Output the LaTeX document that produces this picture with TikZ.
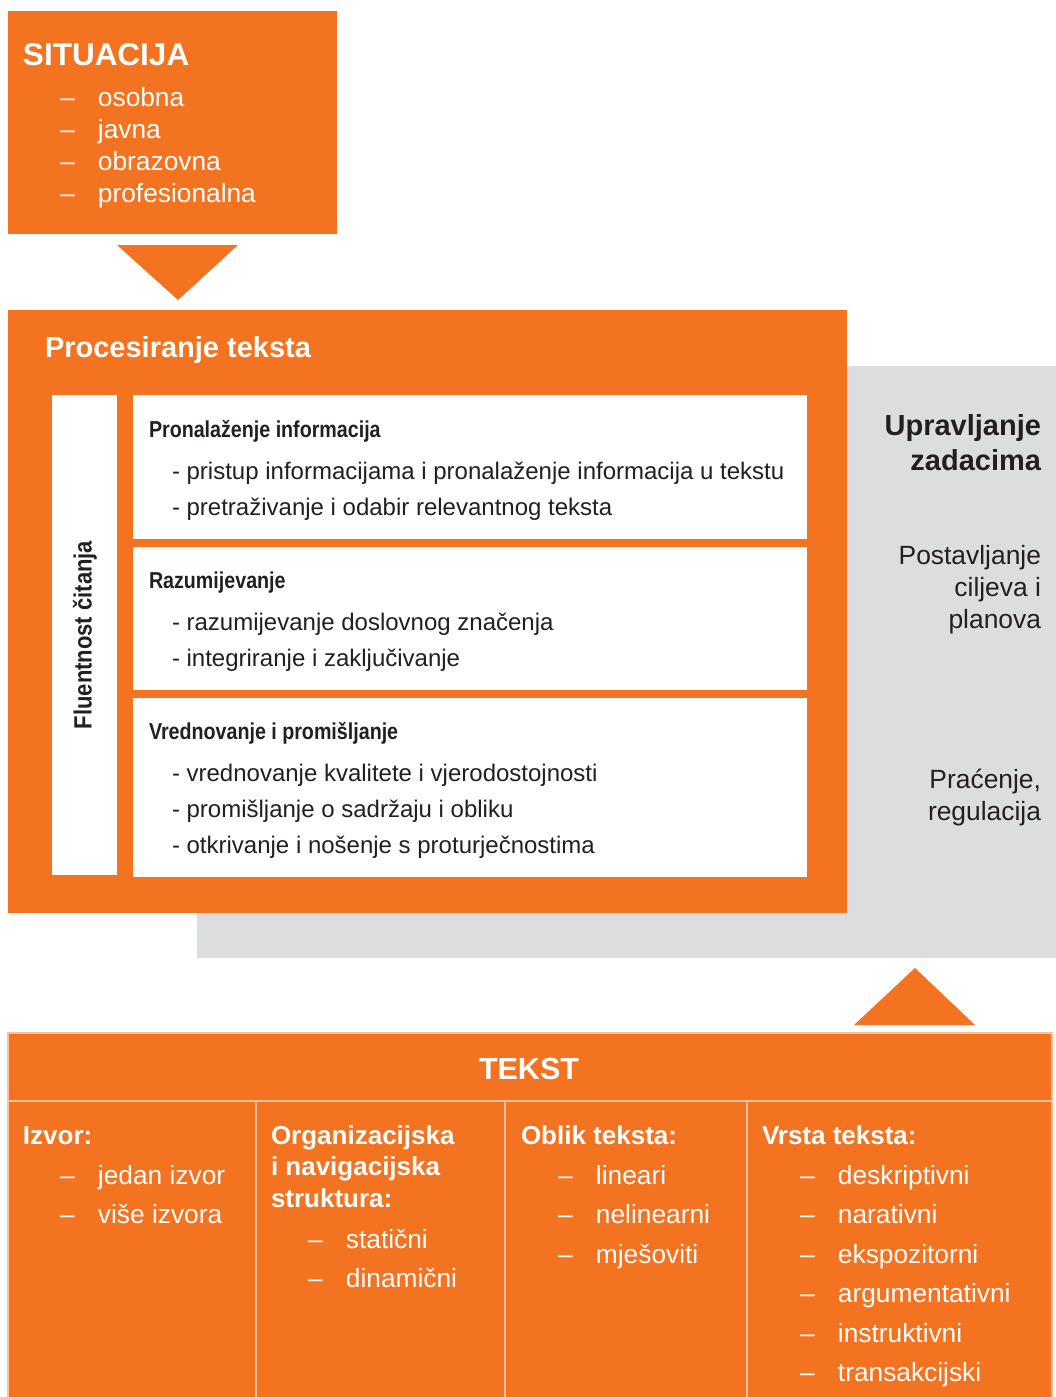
\documentclass[tikz,border=0pt]{standalone}
\usepackage{fontspec}
\setmainfont{Liberation Sans}
\newfontfamily\narrowfam[FakeStretch=0.855]{Liberation Sans}
\newfontfamily\sidefam[FakeStretch=0.88]{Liberation Sans}

\definecolor{brand}{HTML}{F37321}
\definecolor{panel}{HTML}{DCDDDF}
\definecolor{ink}{HTML}{231F20}
\definecolor{hairline}{HTML}{F9C3A0}

% font sizes in px-like points
\newcommand{\fsz}[1]{\fontsize{#1}{#1}\selectfont}
\newcommand{\dashitem}[1]{\makebox[38pt][l]{–}#1}

\begin{document}
\begin{tikzpicture}[x=1pt,y=-1pt,
  every node/.style={inner sep=0pt, outer sep=0pt},
  whitetxt/.style={text=white, anchor=base west},
  inktxt/.style={text=ink, anchor=base west},
  bigtitle/.style={whitetxt, font=\fsz{31.5}\bfseries},
  sectitle/.style={whitetxt, font=\fsz{26}\bfseries},
  proctitle/.style={whitetxt, font=\fsz{29}\bfseries},
  listitem/.style={whitetxt, font=\fsz{26.3}},
  subhead/.style={inktxt, font=\narrowfam\fsz{23}\bfseries},
  subitem/.style={inktxt, font=\fsz{24}},
  sidehead/.style={text=ink, anchor=base east, font=\fsz{29}\bfseries},
  sideitem/.style={text=ink, anchor=base east, font=\fsz{26.4}},
  card/.style={fill=white},
]
\useasboundingbox (0,0) rectangle (1056,1397);
\fill[white] (0,0) rectangle (1056,1397);

% ---- situation box and downward arrow
\fill[brand] (8,11) rectangle (337,234);
\node[bigtitle] (sit) at (23,66) {SITUACIJA};
\node[listitem] (sit1) at (60,106) {\dashitem{osobna}};
\node[listitem] (sit2) at (60,138) {\dashitem{javna}};
\node[listitem] (sit3) at (60,170) {\dashitem{obrazovna}};
\node[listitem] (sit4) at (60,202) {\dashitem{profesionalna}};
\fill[brand] (117,245) -- (238,245) -- (178,300) -- cycle;

% ---- task management panel (behind the processing block)
\fill[panel] (197,366) rectangle (1056,958);
\node[sidehead] (up1) at (1041,435) {Upravljanje};
\node[sidehead] (up2) at (1041,470) {zadacima};
\node[sideitem] (po1) at (1041,564) {Postavljanje};
\node[sideitem] (po2) at (1041,596) {ciljeva i};
\node[sideitem] (po3) at (1041,628) {planova};
\node[sideitem] (pr1) at (1041,788) {Praćenje,};
\node[sideitem] (pr2) at (1041,820) {regulacija};

% ---- text processing block
\fill[brand] (8,310) rectangle (847,913);
\node[proctitle] (proc) at (45,357) {Procesiranje teksta};

\fill[card] (52,395) rectangle (117,875);
\node[text=ink, rotate=90, font=\sidefam\fsz{25}\bfseries] (flu) at (85,635) {Fluentnost čitanja};

\fill[card] (133,395) rectangle (807,539);
\node[subhead] (h1) at (149,437) {Pronalaženje informacija};
\node[subitem] (h1a) at (172,479) {- pristup informacijama i pronalaženje informacija u tekstu};
\node[subitem] (h1b) at (172,515) {- pretraživanje i odabir relevantnog teksta};

\fill[card] (133,547) rectangle (807,690);
\node[subhead] (h2) at (149,588) {Razumijevanje};
\node[subitem] (h2a) at (172,630) {- razumijevanje doslovnog značenja};
\node[subitem] (h2b) at (172,666) {- integriranje i zaključivanje};

\fill[card] (133,698) rectangle (807,877);
\node[subhead] (h3) at (149,739) {Vrednovanje i promišljanje};
\node[subitem] (h3a) at (172,781) {- vrednovanje kvalitete i vjerodostojnosti};
\node[subitem] (h3b) at (172,817) {- promišljanje o sadržaju i obliku};
\node[subitem] (h3c) at (172,853) {- otkrivanje i nošenje s proturječnostima};

% ---- upward arrow into the panel
\fill[brand] (854,1025) -- (975,1025) -- (915,968) -- cycle;

% ---- text table
\fill[brand] (8,1033) rectangle (1052,1397);
\draw[hairline, line width=1.5pt] (8,1397) -- (8,1033) -- (1052,1033) -- (1052,1397);
\draw[hairline, line width=1.5pt] (8,1101) -- (1052,1101);
\foreach \cx in {256,505,747}
  \draw[hairline, line width=1.5pt] (\cx,1101) -- (\cx,1397);
\node[text=white, anchor=base, font=\fsz{30.5}\bfseries] (tekst) at (529,1079) {TEKST};

\node[sectitle] (c1) at (23,1144) {Izvor:};
\node[listitem] (c1a) at (60,1184) {\dashitem{jedan izvor}};
\node[listitem] (c1b) at (60,1223) {\dashitem{više izvora}};

\node[sectitle] (c2a) at (271,1144) {Organizacijska};
\node[sectitle] (c2b) at (271,1175) {i navigacijska};
\node[sectitle] (c2c) at (271,1207) {struktura:};
\node[listitem] (c2d) at (308,1248) {\dashitem{statični}};
\node[listitem] (c2e) at (308,1287) {\dashitem{dinamični}};

\node[sectitle] (c3) at (521,1144) {Oblik teksta:};
\node[listitem] (c3a) at (558,1184) {\dashitem{lineari}};
\node[listitem] (c3b) at (558,1223) {\dashitem{nelinearni}};
\node[listitem] (c3c) at (558,1263) {\dashitem{mješoviti}};

\node[sectitle] (c4) at (762,1144) {Vrsta teksta:};
\node[listitem] (c4a) at (800,1184) {\dashitem{deskriptivni}};
\node[listitem] (c4b) at (800,1223) {\dashitem{narativni}};
\node[listitem] (c4c) at (800,1263) {\dashitem{ekspozitorni}};
\node[listitem] (c4d) at (800,1302) {\dashitem{argumentativni}};
\node[listitem] (c4e) at (800,1342) {\dashitem{instruktivni}};
\node[listitem] (c4f) at (800,1381) {\dashitem{transakcijski}};
\end{tikzpicture}
\end{document}
